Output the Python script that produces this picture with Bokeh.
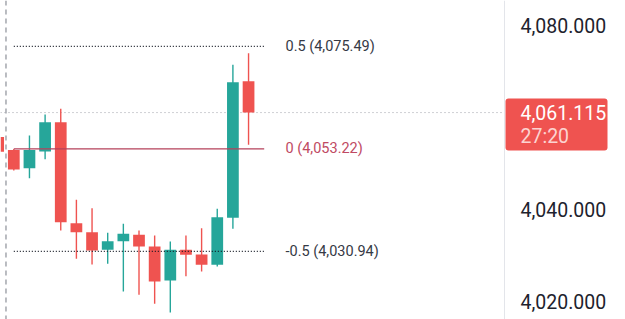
from bokeh.plotting import figure
from bokeh.models import Range1d, Span
from bokeh.core.properties import value
from bokeh.embed import file_html
from bokeh.resources import INLINE

# ---- data ----
idx = list(range(17))
opens  = [4055.8, 4053.0, 4049.0, 4052.65, 4059.0, 4037.07, 4035.1, 4031.28, 4033.15,
          4034.54, 4032.0, 4024.61, 4031.28, 4030.26, 4028.02, 4038.24, 4067.93]
highs  = [4056.3, 4053.2, 4056.13, 4060.7, 4061.93, 4042.15, 4040.33, 4034.98, 4036.93,
          4035.48, 4034.39, 4033.09, 4034.39, 4035.98, 4040.2, 4071.5, 4074.02]
lows   = [4052.0, 4048.5, 4046.85, 4050.98, 4035.48, 4029.33, 4028.09, 4028.24, 4022.22,
          4021.5, 4019.54, 4017.65, 4025.54, 4026.57, 4027.65, 4035.85, 4054.11]
closes = [4052.6, 4048.74, 4053.0, 4059.02, 4037.28, 4035.11, 4031.13, 4033.15, 4034.76,
          4032.0, 4024.39, 4031.28, 4030.2, 4028.02, 4038.37, 4067.72, 4061.115]

fib_levels = [0.5, 0.0, -0.5]
fib_prices = [4075.49, 4053.22, 4030.94]
fib_labels = ["0.5 (4,075.49)", "0 (4,053.22)", "-0.5 (4,030.94)"]
fib_start, fib_end = 1, 17

session_break = 0.5
last_price = 4061.115
last_price_text = "4,061.115"
countdown_text = "27:20"
scale_ticks = [4020, 4040, 4080]
scale_labels = ["4,020.000", "4,040.000", "4,080.000"]

# ---- style / geometry ----
UP, DOWN = "#26a69a", "#ef5350"
FONT = "Roboto"
PX_PER_BAR = 15.65
PX_PER_PRICE = 4.6
W, H = 625, 319
PANE_W = 504          # width of the candle pane; the price scale sits to its right

x0 = 0.15
x1 = x0 + W / PX_PER_BAR
y0, y1 = 4016.13, 4085.48


def bx(px):
    """bar-axis coordinate of a horizontal pixel offset"""
    return x0 + px / PX_PER_BAR


pane_edge = bx(PANE_W)

p = figure(width=W, height=H, x_range=Range1d(x0, x1), y_range=Range1d(y0, y1),
           toolbar_location=None, output_backend="svg",
           x_axis_location=None, y_axis_location=None,
           min_border_left=0, min_border_right=0, min_border_top=0, min_border_bottom=0)
p.outline_line_color = None
p.xgrid.visible = False
p.ygrid.visible = False
p.background_fill_color = "white"
p.border_fill_color = "white"

# pane separator and session separator
p.add_layout(Span(location=pane_edge, dimension="height", line_color="#e3e5ea", line_width=1))
p.add_layout(Span(location=session_break, dimension="height", line_color="#a3a6ad",
                  line_width=1.5, line_dash="5 4"))

# current price line (pane only)
p.segment(x0=[x0], x1=[pane_edge], y0=[last_price], y1=[last_price],
          line_color="#9ea1a9", line_width=1, line_dash="1 3")

# candles
colors = [UP if c >= o else DOWN for o, c in zip(opens, closes)]
tops = [max(o, c) for o, c in zip(opens, closes)]
bots = [min(o, c) for o, c in zip(opens, closes)]
p.segment(x0=idx, y0=lows, x1=idx, y1=highs, line_color=colors, line_width=1.4)
p.vbar(x=idx, width=0.75, top=tops, bottom=bots, fill_color=colors, line_color=None)

# fib levels
for lvl, pr in zip(fib_levels, fib_prices):
    if lvl == 0:
        p.segment(x0=[fib_start], x1=[fib_end], y0=[pr], y1=[pr],
                  line_color="#b5405a", line_width=1.2)
    else:
        p.segment(x0=[fib_start], x1=[fib_end], y0=[pr], y1=[pr],
                  line_color="#131722", line_width=1.2, line_dash="1 2")

label_colors = ["#363a45" if l != 0 else "#c04a63" for l in fib_levels]
p.text(x=[fib_end + 1.36] * len(fib_prices), y=fib_prices, text=fib_labels,
       text_color=label_colors, text_font=value(FONT), text_font_size="14.5px",
       text_baseline="middle", text_align="left")

# price scale labels
p.text(x=[bx(520)] * len(scale_ticks), y=scale_ticks, text=scale_labels,
       text_color="#1e222d", text_font=value(FONT), text_font_size="19.5px",
       text_baseline="middle", text_align="left")

# last price tag
tag_top = last_price + 14 / PX_PER_PRICE
tag_bot = last_price - 38 / PX_PER_PRICE
p.quad(left=[bx(PANE_W + 1)], right=[bx(607)], top=[tag_top], bottom=[tag_bot],
       fill_color=DOWN, line_color=None, border_radius=3)
p.text(x=[bx(520)] * 2, y=[last_price, last_price - 24 / PX_PER_PRICE],
       text=[last_price_text, countdown_text], text_color=["white", "#fcd3d1"],
       text_font=value(FONT), text_font_size="19.5px",
       text_baseline="middle", text_align="left")

open("out.html", "w").write(file_html(p, INLINE))
